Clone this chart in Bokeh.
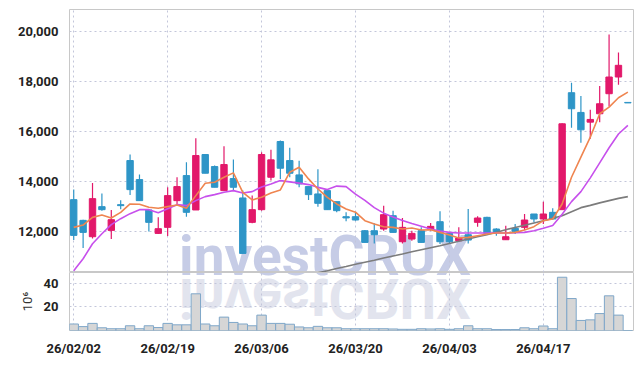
import numpy as np
from bokeh.plotting import figure
from bokeh.models import (Range1d, FixedTicker, NumeralTickFormatter,
                          ColumnDataSource, Div)
from bokeh.layouts import column
from bokeh.embed import file_html
from bokeh.resources import INLINE

# ---------------- data ----------------
dates = ["26/02/02", "26/02/03", "26/02/04", "26/02/05", "26/02/06",
         "26/02/09", "26/02/10", "26/02/11", "26/02/12", "26/02/13",
         "26/02/19", "26/02/20", "26/02/23", "26/02/24", "26/02/25",
         "26/02/26", "26/02/27", "26/03/03", "26/03/04", "26/03/05",
         "26/03/06", "26/03/09", "26/03/10", "26/03/11", "26/03/12",
         "26/03/13", "26/03/16", "26/03/17", "26/03/18", "26/03/19",
         "26/03/20", "26/03/23", "26/03/24", "26/03/25", "26/03/26",
         "26/03/27", "26/03/30", "26/03/31", "26/04/01", "26/04/02",
         "26/04/03", "26/04/06", "26/04/07", "26/04/08", "26/04/09",
         "26/04/10", "26/04/13", "26/04/14", "26/04/15", "26/04/16",
         "26/04/17", "26/04/20", "26/04/21", "26/04/22", "26/04/23",
         "26/04/24", "26/04/27", "26/04/28", "26/04/29", "26/04/30"]

open_ = [13280, 12453, 11800, 13000, 12053, 13080, 14840, 14080, 12867, 11933,
         12173, 13240, 14240, 12867, 15080, 14600, 13640, 14120, 13347, 12373,
         12880, 14173, 15600, 14840, 14267, 13800, 13507, 13640, 13200, 12600,
         12600, 12040, 12040, 12107, 12640, 11600, 11707, 12040, 12107, 12400,
         11933, 11640, 11880, 12373, 12573, 12107, 11680, 12133, 12173, 12707,
         12507, 12773, 12880, 17547, 16760, 16373, 16707, 17507, 18173, 17160]
high = [13680, 12480, 13947, 13520, 12867, 13260, 15080, 14280, 12900, 12573,
        13773, 14173, 14773, 15733, 15080, 14640, 15413, 14880, 13640, 13440,
        15173, 15267, 15640, 15347, 14827, 13800, 14493, 13640, 13200, 12773,
        12750, 12067, 12333, 13040, 12840, 12547, 12040, 12173, 12347, 12813,
        11973, 12173, 12907, 12613, 12600, 12133, 12240, 12307, 12707, 12707,
        13200, 12933, 16333, 17947, 17413, 16867, 17813, 19867, 19147, 17160]
low = [11667, 11347, 11733, 12840, 11707, 12900, 13467, 13240, 12013, 11907,
       11827, 13040, 12600, 12867, 14333, 13773, 13640, 13640, 11133, 12333,
       12840, 14040, 14107, 14173, 13773, 13267, 13000, 12880, 12773, 12413,
       12440, 11573, 11533, 12040, 11973, 11533, 11640, 11573, 12040, 11507,
       11507, 11600, 11533, 12200, 11933, 11840, 11680, 11907, 12067, 12373,
       12307, 12480, 12880, 16147, 15547, 15707, 16373, 17000, 17867, 17140]
close = [11853, 11973, 13320, 12880, 12480, 13040, 13680, 13240, 12373, 12120,
         13440, 13800, 12773, 15040, 14333, 13773, 14680, 13773, 11133, 12880,
         15080, 14867, 14533, 14333, 13907, 13480, 13133, 12880, 12840, 12550,
         12467, 11573, 11880, 12680, 11973, 12173, 11933, 11573, 12213, 11600,
         11600, 11747, 11667, 12547, 11933, 11973, 11800, 12013, 12467, 12507,
         12707, 12507, 16307, 16907, 16067, 16480, 17107, 18173, 18640, 17140]

ma_short = [12173, 12267, 12573, 12667, 12547, 12773, 13107, 13093, 12973, 12933,
            13000, 13067, 12933, 13440, 13933, 13973, 14173, 14347, 13573, 13267,
            13373, 13547, 13667, 14373, 14573, 14107, 13707, 13373, 13107, 12907,
            12780, 12440, 12307, 12200, 12173, 12107, 12147, 12067, 12080, 11973,
            11867, 11747, 11773, 11840, 11907, 11947, 11947, 11973, 12067, 12200,
            12440, 12507, 13107, 14173, 14973, 15773, 16707, 16973, 17347, 17573]
ma_mid = [10440, 10920, 11520, 11920, 12280, 12520, 12720, 12880, 12880, 12760,
          12920, 13080, 13040, 13240, 13400, 13480, 13573, 13640, 13547, 13600,
          13784, 13900, 14040, 13990, 13940, 13880, 13770, 13680, 13820, 13800,
          13500, 13250, 12960, 12740, 12590, 12450, 12330, 12220, 12110, 12030,
          11973, 11950, 11947, 11947, 11947, 11947, 11947, 11960, 11973, 12040,
          12140, 12250, 12700, 13200, 13600, 14150, 14750, 15350, 15900, 16240]
ma_long = [None] * 26 + [
          10360, 10440, 10530, 10610, 10700, 10780, 10860, 10950, 11030, 11110,
          11200, 11280, 11360, 11440, 11530, 11620, 11710, 11800, 11880, 11980,
          12080, 12170, 12260, 12350, 12440, 12540, 12640, 12800, 12960, 13050,
          13150, 13240, 13330, 13400]

volume = [5.5, 3.3, 6.0, 2.3, 1.5, 1.5, 4.0, 1.5, 4.0, 2.5,
          6.0, 4.8, 4.8, 31.0, 5.5, 4.0, 11.3, 6.8, 5.5, 4.0,
          13.0, 6.0, 6.0, 5.3, 3.0, 2.3, 3.5, 2.3, 2.3, 1.5,
          1.5, 1.5, 1.5, 1.5, 1.3, 1.0, 1.0, 1.5, 1.3, 1.5,
          1.0, 1.5, 4.0, 1.5, 1.5, 0.8, 0.8, 0.8, 2.3, 1.5,
          3.8, 1.5, 45.0, 27.0, 8.5, 9.0, 14.3, 29.3, 13.0, 0.0]

price_ticks = [12000, 14000, 16000, 18000, 20000]
volume_ticks = [20, 40]
date_tick_idx = [0, 10, 20, 30, 40, 50]
watermark = "investCRUX"

# ---------------- styles ----------------
UP = "#e2186a"
DOWN = "#2e95c7"
GRID = "#c3c6da"
FONT = "Roboto"

idx = list(range(len(dates)))
colors = [UP if c >= o else DOWN for o, c in zip(open_, close)]
src = ColumnDataSource(dict(
    x=idx, open=open_, high=high, low=low, close=close, color=colors,
    top=[max(o, c) for o, c in zip(open_, close)],
    bottom=[min(o, c) for o, c in zip(open_, close)],
    vol=volume,
    ma_s=ma_short, ma_m=ma_mid,
    ma_l=[np.nan if v is None else v for v in ma_long],
))

xr = Range1d(-0.45, 59.6)

p = figure(width=635, height=272, x_range=xr, y_range=Range1d(10372, 20868),
           output_backend="svg", toolbar_location=None,
           min_border_left=69, min_border_right=2, min_border_top=9,
           min_border_bottom=0)
p.xaxis.visible = False
p.xaxis.ticker = FixedTicker(ticks=date_tick_idx)
p.yaxis.ticker = FixedTicker(ticks=price_ticks)
p.yaxis.formatter = NumeralTickFormatter(format="0,0")

vol = figure(width=635, height=86, x_range=xr, y_range=Range1d(0, 49),
             output_backend="svg", toolbar_location=None,
             min_border_left=69, min_border_right=2, min_border_top=0,
             min_border_bottom=0)
vol.xaxis.ticker = FixedTicker(ticks=date_tick_idx)
vol.xaxis.major_label_overrides = {i: dates[i] for i in date_tick_idx}
vol.yaxis.ticker = FixedTicker(ticks=volume_ticks)
vol.yaxis.axis_label = "10\u2076"
vol.yaxis.axis_label_text_font = FONT
vol.yaxis.axis_label_text_font_style = "normal"
vol.yaxis.axis_label_text_font_size = "13px"
vol.yaxis.axis_label_text_color = "#333333"
vol.yaxis.axis_label_standoff = 6

for f in (p, vol):
    f.background_fill_alpha = 0
    f.border_fill_alpha = 0
    f.outline_line_color = "#c8c8c8"
    f.grid.grid_line_color = GRID
    f.grid.grid_line_dash = "2 3"
    f.grid.grid_line_width = 1
    for ax in f.axis:
        ax.axis_line_color = None
        ax.major_tick_line_color = None
        ax.minor_tick_line_color = None
        ax.major_label_text_font = FONT
        ax.major_label_text_font_style = "bold"
        ax.major_label_text_font_size = "13px"
        ax.major_label_text_color = "#222222"
        ax.major_label_standoff = 5
vol.xaxis.major_label_standoff = 4

# candles
p.segment(x0="x", y0="high", x1="x", y1="low", color="color", line_width=1.2,
          source=src)
p.vbar(x="x", width=0.68, top="top", bottom="bottom", fill_color="color",
       line_color="color", line_width=1, source=src)

# moving averages
p.line("x", "ma_l", source=src, line_color="#7c7c7c", line_width=1.6)
p.line("x", "ma_m", source=src, line_color="#c750ec", line_width=1.6)
p.line("x", "ma_s", source=src, line_color="#ef8550", line_width=1.6)

# volume bars
vol.vbar(x="x", width=1.0, top="vol", bottom=0, fill_color="#d6d6d6",
         line_color="#7fa7c9", line_width=1, source=src)


def wm(color, top, flip):
    styles = {"position": "absolute", "left": "160px", "top": f"{top}px",
              "text-align": "center", "pointer-events": "none"}
    if flip:
        styles["transform"] = "scaleY(-1)"
    return Div(
        text=('<span style="font-family:Roboto;font-weight:bold;'
              'font-size:55px;line-height:42px;color:' + color +
              ';white-space:nowrap">' + watermark + '</span>'),
        width=320, height=42, styles=styles)


mark = wm("#c6cce6", 230, False)
reflection = wm("#e2e4ee", 272, True)

layout = column(mark, reflection, p, vol, spacing=0)

open("out.html", "w").write(file_html(layout, INLINE))
